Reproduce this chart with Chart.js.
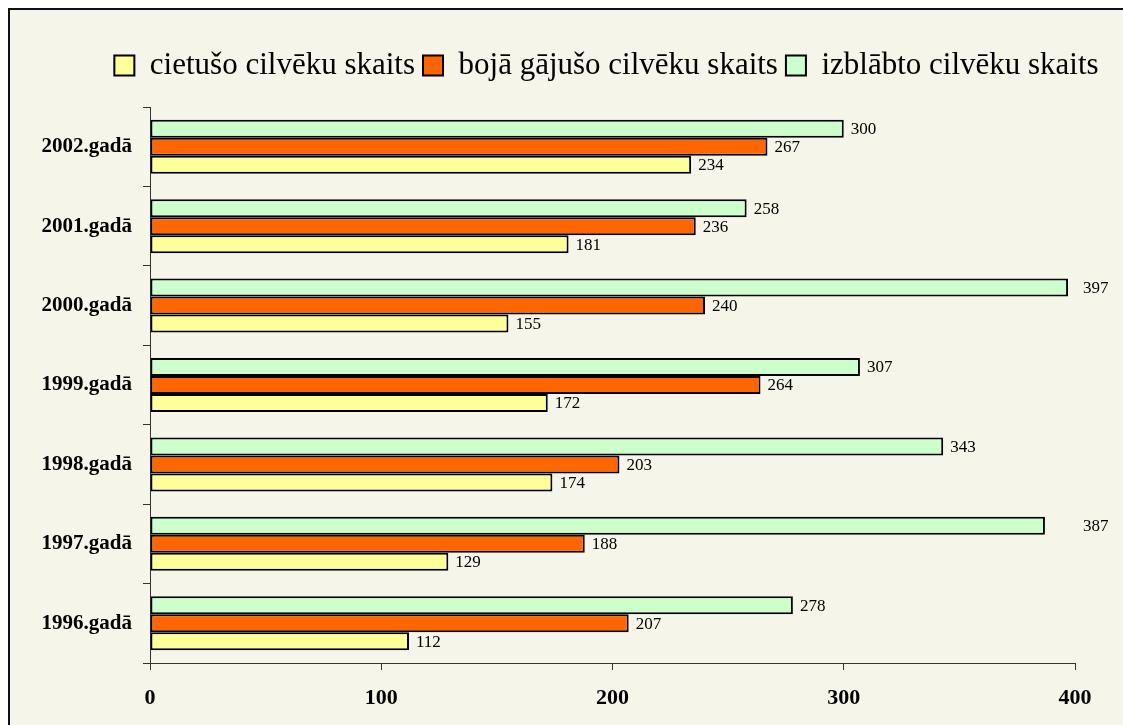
<!DOCTYPE html>
<html>
<head>
<meta charset="utf-8">
<script src="https://cdn.jsdelivr.net/npm/chart.js@4.4.1/dist/chart.umd.min.js"></script>
<style>
  html, body { margin: 0; padding: 0; background: #fff; overflow: hidden; }
  #frame { position: absolute; left: 8px; top: 8px; width: 1200px; height: 800px;
           border: 2px solid #111; background: #F5F5E9; }
  #wrap { position: absolute; left: 0; top: 0; width: 1123px; height: 725px; }
</style>
</head>
<body>
<div id="frame"></div>
<div id="wrap"><canvas id="chart"></canvas></div>
<script>
// --- DATA ---
const years = ['2002.gadā', '2001.gadā', '2000.gadā', '1999.gadā', '1998.gadā', '1997.gadā', '1996.gadā'];
const injured = [234, 181, 155, 172, 174, 129, 112];   // cietušo cilvēku skaits
const killed  = [267, 236, 240, 264, 203, 188, 207];   // bojā gājušo cilvēku skaits
const rescued = [300, 258, 397, 307, 343, 387, 278];   // izblābto cilvēku skaits
const xTicks = [0, 100, 200, 300, 400];

const SERIF = '"Liberation Serif", "Times New Roman", serif';

// value labels right of the bars (Excel pushes the long ones past the axis end)
const valueLabels = {
    id: 'valueLabels',
    afterDatasetsDraw(chart) {
        const ctx = chart.ctx;
        const right = chart.chartArea.right;
        ctx.save();
        ctx.font = '17px ' + SERIF;
        ctx.fillStyle = '#000';
        ctx.textBaseline = 'middle';
        chart.data.datasets.forEach((ds, i) => {
            chart.getDatasetMeta(i).data.forEach((bar, j) => {
                let x = bar.x + 7;
                if (x + 30 > right) x = right + 8;
                ctx.fillText(String(ds.data[j]), x, bar.y + 1);
            });
        });
        ctx.restore();
    }
};

// more room under the legend, and legend a bit right of centre like the original
const legendTweak = {
    id: 'legendTweak',
    beforeInit(chart) {
        const fit = chart.legend.fit;
        chart.legend.fit = function () {
            fit.bind(chart.legend)();
            this.height += 16;
        };
    },
    afterLayout(chart) {
        chart.legend.left += 50;
        chart.legend.right += 50;
    }
};

new Chart(document.getElementById('chart'), {
    type: 'bar',
    data: {
        labels: years,
        datasets: [
            { label: 'izblābto cilvēku skaits', data: rescued, backgroundColor: '#CCFFCC' },
            { label: 'bojā gājušo cilvēku skaits', data: killed, backgroundColor: '#FF6600' },
            { label: 'cietušo cilvēku skaits', data: injured, backgroundColor: '#FFFF99' }
        ].map(d => Object.assign(d, {
            borderColor: '#000',
            borderWidth: 2,
            borderSkipped: false,
            barPercentage: 1,
            categoryPercentage: 0.68
        }))
    },
    options: {
        indexAxis: 'y',
        responsive: true,
        maintainAspectRatio: false,
        animation: false,
        layout: { padding: { left: 38, right: 48, top: 42, bottom: 0 } },
        scales: {
            x: {
                min: 0,
                max: 400,
                afterBuildTicks: (scale) => { scale.ticks = xTicks.map(v => ({ value: v })); },
                afterFit: (scale) => { scale.height = 62; },
                grid: { drawOnChartArea: false, tickLength: 7, color: '#333' },
                border: { color: '#333', width: 1 },
                ticks: { color: '#000', padding: 15, font: { family: SERIF, size: 22, weight: 'bold' } }
            },
            y: {
                afterFit: (scale) => { scale.width = 112; },
                grid: { drawOnChartArea: false, tickLength: 7, color: '#333', offset: true },
                border: { color: '#333', width: 1 },
                ticks: { color: '#000', padding: 11, font: { family: SERIF, size: 21, weight: 'bold' } }
            }
        },
        plugins: {
            legend: {
                position: 'top',
                reverse: true,
                labels: {
                    color: '#000',
                    boxWidth: 20,
                    boxHeight: 20,
                    padding: 8,
                    font: { family: SERIF, size: 31 }
                }
            },
            tooltip: { enabled: false }
        }
    },
    plugins: [valueLabels, legendTweak]
});
</script>
</body>
</html>
